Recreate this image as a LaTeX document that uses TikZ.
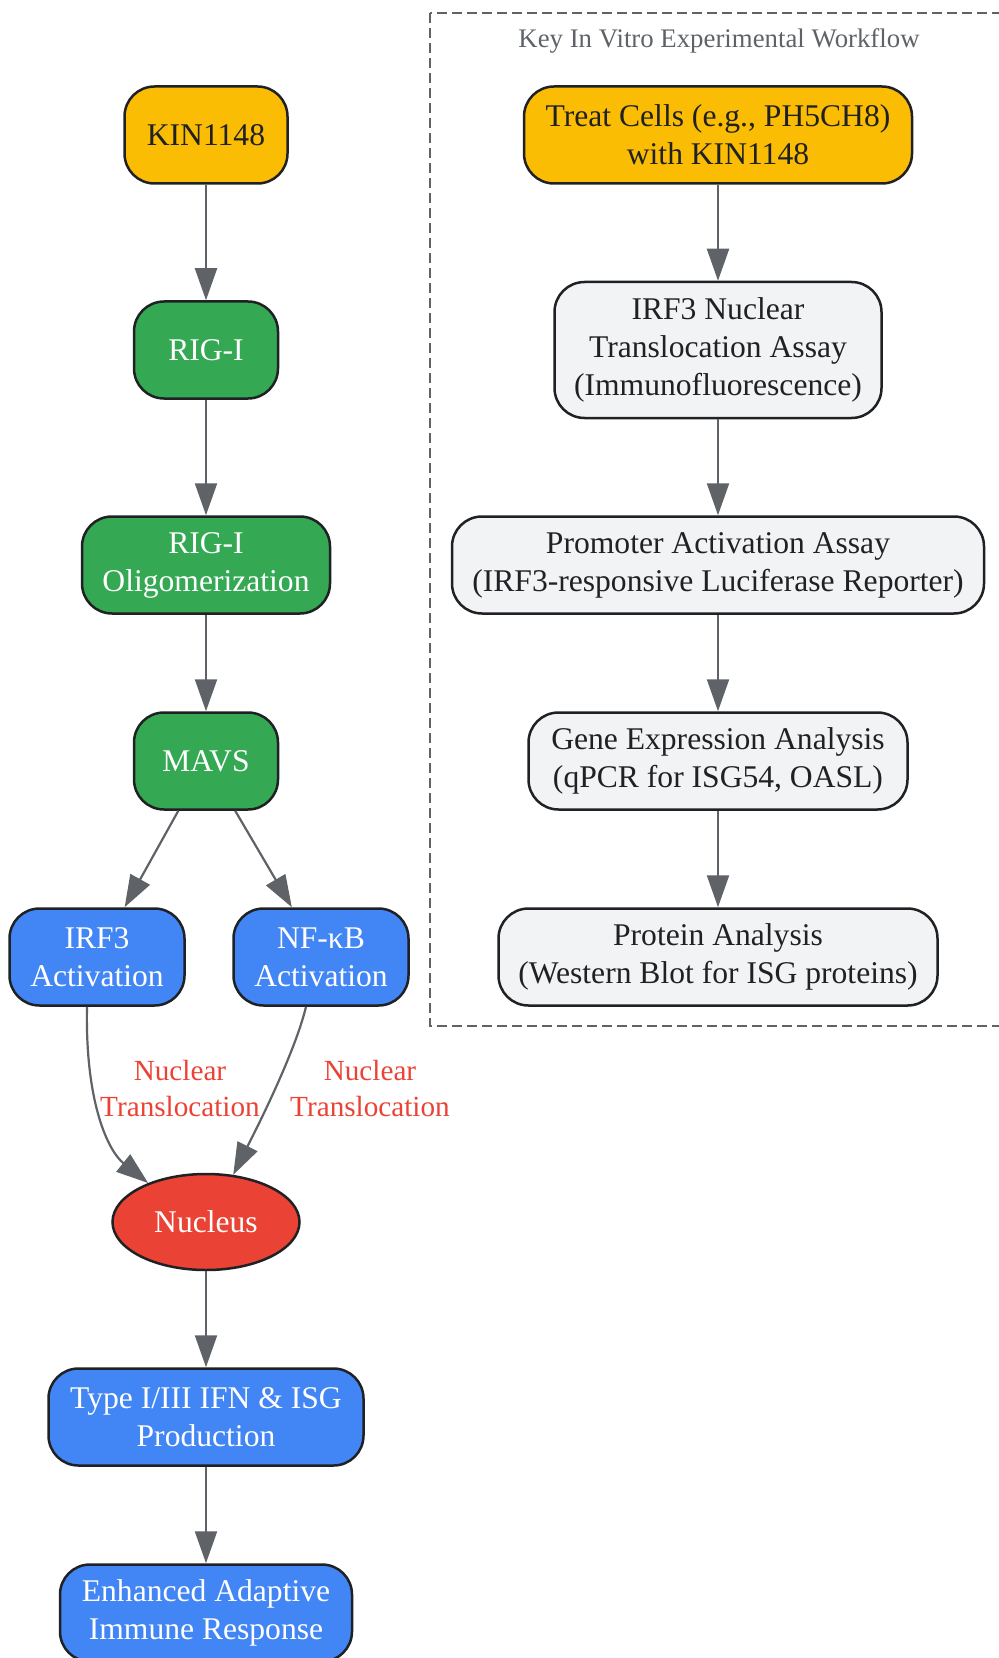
\documentclass[tikz,border=0pt]{standalone}
\usepackage{fontspec}
\setmainfont{Liberation Serif}
\usetikzlibrary{arrows.meta,shapes.geometric}
\definecolor{drugyellow}{HTML}{FBBC04}
\definecolor{sensorgreen}{HTML}{34A853}
\definecolor{factorblue}{HTML}{4285F4}
\definecolor{nucred}{HTML}{EA4335}
\definecolor{assaygray}{HTML}{F1F3F4}
\definecolor{inkdark}{HTML}{202124}
\definecolor{linegray}{HTML}{5F6368}

\begin{document}
\begin{tikzpicture}[x=0.5pt, y=-0.5pt,
    box/.style={draw=inkdark, line width=1.25pt, rounded corners=15pt, minimum height=48.5pt, inner sep=3pt, align=center, font=\fontsize{15.8pt}{19pt}\selectfont},
    drug/.style={box, fill=drugyellow, text=inkdark},
    sensor/.style={box, fill=sensorgreen, text=white},
    factor/.style={box, fill=factorblue, text=white},
    assay/.style={box, fill=assaygray, text=inkdark},
    flow/.style={draw=linegray, line width=1.1pt, -{Triangle[length=16pt,width=11pt]}},
    tag/.style={text=nucred, align=center, font=\fontsize{14.6pt}{18pt}\selectfont}]
    \useasboundingbox (0,0) rectangle (998,1658);

    % signalling pathway
    \node (kin) at (206,135) [drug, minimum width=81.5pt] {KIN1148};
    \node (rig) at (206,350) [sensor, minimum width=72pt] {RIG-I};
    \node (oligo) at (206,565) [sensor, minimum width=124pt] {RIG-I\\Oligomerization};
    \node (mavs) at (206,761) [sensor, minimum width=72pt] {MAVS};
    \node (irfact) at (97,957) [factor, minimum width=87.5pt] {IRF3\\Activation};
    \node (nfkb) at (321,957) [factor, minimum width=87.5pt] {NF-κB\\Activation};
    \node (nucleus) at (206,1222) [ellipse, draw=inkdark, line width=1.25pt, fill=nucred, text=white, minimum width=93.5pt, minimum height=48pt, inner sep=0pt, font=\fontsize{15.8pt}{19pt}\selectfont] {Nucleus};
    \node (ifn) at (206,1417) [factor, minimum width=157.5pt] {Type I/III IFN \& ISG\\Production};
    \node (immune) at (206,1613) [factor, minimum width=146pt] {Enhanced Adaptive\\Immune Response};

    \node (tagA) at (180,1089) [tag] {Nuclear\\Translocation};
    \node (tagB) at (370,1089) [tag] {Nuclear\\Translocation};

    \draw (kin) edge[flow] (rig) (rig) edge[flow] (oligo) (oligo) edge[flow] (mavs)
        (mavs) edge[flow] (irfact) (mavs) edge[flow] (nfkb) (nucleus) edge[flow] (ifn) (ifn) edge[flow] (immune);
    \draw [flow] ([xshift=-5pt]irfact.south) .. controls +(-1pt,-48pt) and +(-20pt,16pt) .. (nucleus.146);
    \draw [flow] ([xshift=-7.5pt]nfkb.south) .. controls +(-6pt,-25pt) and +(8pt,16pt) .. (nucleus.60);

    % in vitro workflow
    \draw [linegray, line width=1.4pt, dash pattern=on 5pt off 2.5pt] (430,13) rectangle (1008,1026);
    \node (title) at (719,41) [text=linegray, font=\fontsize{13.4pt}{16pt}\selectfont] {Key In Vitro Experimental Workflow};
    \node (treat) at (718,135) [drug, minimum width=194pt] {Treat Cells (e.g., PH5CH8)\\with KIN1148};
    \node (ifa) at (718,350) [assay, minimum width=163.5pt, minimum height=68pt] {IRF3 Nuclear\\Translocation Assay\\(Immunofluorescence)};
    \node (luc) at (718,565) [assay, minimum width=266pt] {Promoter Activation Assay\\(IRF3-responsive Luciferase Reporter)};
    \node (qpcr) at (718,761) [assay, minimum width=189.5pt] {Gene Expression Analysis\\(qPCR for ISG54, OASL)};
    \node (blot) at (718,957) [assay, minimum width=219.5pt] {Protein Analysis\\(Western Blot for ISG proteins)};

    \draw (treat) edge[flow] (ifa) (ifa) edge[flow] (luc) (luc) edge[flow] (qpcr) (qpcr) edge[flow] (blot);
\end{tikzpicture}
\end{document}
